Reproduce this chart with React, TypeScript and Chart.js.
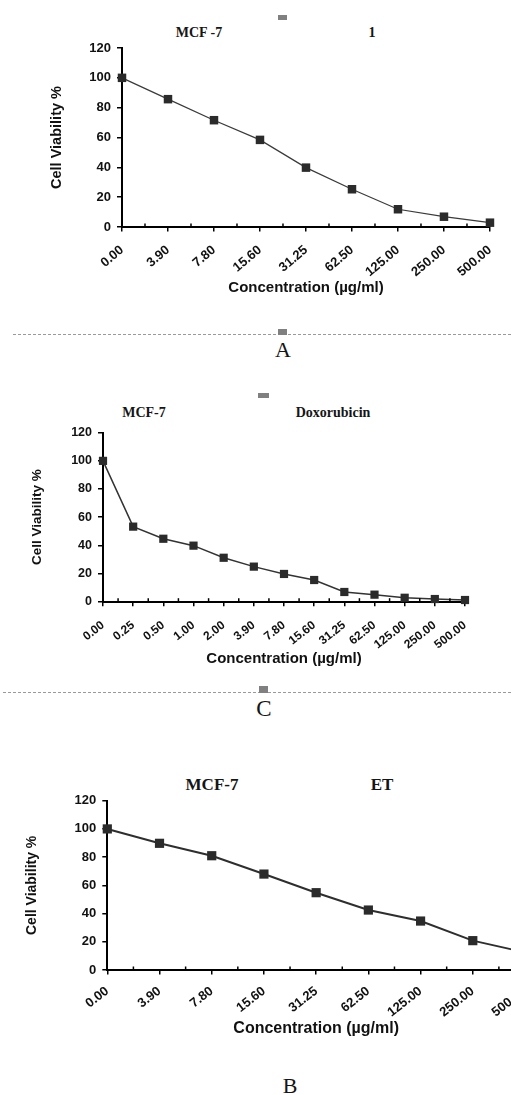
import React, { useEffect, useRef } from 'react';
import { Chart, registerables } from 'chart.js';

Chart.register(...registerables);

// ---------- data ----------
const concLabels1 = ['0.00', '3.90', '7.80', '15.60', '31.25', '62.50', '125.00', '250.00', '500.00'];
const viability1 = [100, 85.7, 71.6, 58.4, 39.8, 25.3, 11.9, 6.9, 2.9];

const concLabelsDox = ['0.00', '0.25', '0.50', '1.00', '2.00', '3.90', '7.80', '15.60', '31.25', '62.50', '125.00', '250.00', '500.00'];
const viabilityDox = [100, 53.3, 44.7, 39.8, 31.2, 24.9, 19.7, 15.4, 6.9, 5.0, 2.8, 1.9, 1.2];

const concLabelsET = ['0.00', '3.90', '7.80', '15.60', '31.25', '62.50', '125.00', '250.00', '500.00'];
const viabilityET = [100, 89.8, 81.0, 68.0, 54.8, 42.5, 34.7, 20.8, 12.5];

const yMin = 0;
const yMax = 120;
const yStep = 20;

const xTitle = 'Concentration (µg/ml)';
const yTitle = 'Cell Viability %';

const SANS = "'Liberation Sans', Arial, Helvetica, sans-serif";
const SERIF = "'Liberation Serif', 'Times New Roman', serif";

interface PanelSpec {
  top: number;
  width: number;
  height: number;
  padTop: number;
  padRight: number;
  yWidth: number;
  yTitleSize: number;
  yTitleCenter: number;
  xHeight: number;
  xTitleSize: number;
  xTickSize: number;
  yTickSize: number;
  xTickPad: number;
  rotation: number;
  lineWidth: number;
  pointRadius: number;
  lineColor: string;
}

const minorTicksPlugin = {
  id: 'minorTicks',
  afterDraw(chart: any) {
    const xs = chart.scales.x;
    const ctx = chart.ctx;
    const y0 = xs.top;
    ctx.save();
    ctx.strokeStyle = '#000';
    ctx.lineWidth = 1.5;
    const n = xs.ticks.length;
    for (let i = 0; i < n - 1; i++) {
      const px = (xs.getPixelForTick(i) + xs.getPixelForTick(i + 1)) / 2;
      ctx.beginPath();
      ctx.moveTo(px, y0);
      ctx.lineTo(px, y0 - 3.5);
      ctx.stroke();
    }
    ctx.restore();
  },
};

function Panel({ labels, values, spec }: { labels: string[]; values: number[]; spec: PanelSpec }) {
  const ref = useRef<HTMLCanvasElement>(null);
  useEffect(() => {
    const yLh = spec.yTitleSize * 1.2;
    const chart = new Chart(ref.current as HTMLCanvasElement, {
      type: 'line',
      data: {
        labels,
        datasets: [
          {
            data: values,
            borderColor: spec.lineColor,
            borderWidth: spec.lineWidth,
            pointStyle: 'rect',
            pointRadius: spec.pointRadius,
            pointBackgroundColor: '#2b2b2b',
            pointBorderWidth: 0,
            tension: 0,
            fill: false,
            clip: false,
          } as any,
        ],
      },
      options: {
        animation: false,
        responsive: true,
        maintainAspectRatio: false,
        events: [],
        layout: { padding: { top: spec.padTop, right: spec.padRight, left: 0, bottom: 0 } },
        plugins: {
          legend: { display: false },
          tooltip: { enabled: false },
          title: { display: false },
        },
        scales: {
          x: {
            type: 'category',
            offset: false,
            grid: {
              display: true,
              drawOnChartArea: false,
              drawTicks: true,
              tickLength: 4.5,
              color: '#000',
              lineWidth: 1.5,
            },
            border: { display: true, color: '#000', width: 2 },
            ticks: {
              autoSkip: false,
              maxRotation: spec.rotation,
              minRotation: spec.rotation,
              padding: spec.xTickPad,
              color: '#111',
              font: { family: SANS, weight: 'bold', size: spec.xTickSize },
            },
            title: {
              display: true,
              text: xTitle,
              color: '#111',
              font: { family: SANS, weight: 'bold', size: spec.xTitleSize },
              padding: { top: 0, bottom: 0 },
            },
            afterFit: (sc: any) => {
              sc.height = spec.xHeight;
            },
          },
          y: {
            min: yMin,
            max: yMax,
            ticks: {
              stepSize: yStep,
              padding: 6,
              color: '#111',
              font: { family: SANS, weight: 'bold', size: spec.yTickSize },
            },
            grid: {
              drawOnChartArea: false,
              drawTicks: true,
              tickLength: 5,
              color: '#000',
              lineWidth: 1.5,
            },
            border: { display: true, color: '#000', width: 2 },
            title: {
              display: true,
              text: yTitle,
              color: '#111',
              font: { family: SANS, weight: 'bold', size: spec.yTitleSize },
              padding: { top: spec.yTitleCenter - yLh / 2, bottom: 0 },
            },
            afterFit: (sc: any) => {
              sc.width = spec.yWidth;
            },
          },
        },
      } as any,
      plugins: [minorTicksPlugin],
    });
    return () => chart.destroy();
  }, []);
  return (
    <div style={{ position: 'absolute', left: 0, top: spec.top, width: spec.width, height: spec.height }}>
      <canvas ref={ref} />
    </div>
  );
}

function Txt({ x, y, text, size, bold = true, family = SERIF }: { x: number; y: number; text: string; size: number; bold?: boolean; family?: string }) {
  return (
    <div
      style={{
        position: 'absolute',
        left: x,
        top: y,
        transform: 'translate(-50%, -50%)',
        fontSize: size,
        fontWeight: bold ? 'bold' : 'normal',
        fontFamily: family,
        lineHeight: 1,
        whiteSpace: 'nowrap',
        color: '#151515',
      }}
    >
      {text}
    </div>
  );
}

function Box({ x, y, w, h }: { x: number; y: number; w: number; h: number }) {
  return <div style={{ position: 'absolute', left: x, top: y, width: w, height: h, background: '#808080' }} />;
}

function Dashed({ x, y, w }: { x: number; y: number; w: number }) {
  return (
    <div
      style={{
        position: 'absolute',
        left: x,
        top: y,
        width: w,
        height: 1,
        background: 'repeating-linear-gradient(to right, #9a9a9a 0 3px, transparent 3px 5px)',
      }}
    />
  );
}

const specA: PanelSpec = {
  top: 0, width: 511, height: 297, padTop: 48, padRight: 20, yWidth: 122,
  yTitleSize: 14.5, yTitleCenter: 57, xHeight: 70, xTitleSize: 15, xTickSize: 13, yTickSize: 13,
  xTickPad: 11, rotation: 40, lineWidth: 1.2, pointRadius: 6, lineColor: '#3a3a3a',
};
const specC: PanelSpec = {
  top: 370, width: 511, height: 298, padTop: 62.7, padRight: 46, yWidth: 103,
  yTitleSize: 13.5, yTitleCenter: 37, xHeight: 66.3, xTitleSize: 15, xTickSize: 12, yTickSize: 12.5,
  xTickPad: 12, rotation: 38, lineWidth: 1.5, pointRadius: 5.8, lineColor: '#333',
};
const specB: PanelSpec = {
  top: 740, width: 560, height: 298, padTop: 60.7, padRight: 35, yWidth: 107.3,
  yTitleSize: 14, yTitleCenter: 32.5, xHeight: 68, xTitleSize: 16, xTickSize: 13, yTickSize: 13,
  xTickPad: 9, rotation: 38, lineWidth: 2, pointRadius: 6.5, lineColor: '#2e2e2e',
};

export default function App() {
  return (
    <div style={{ position: 'absolute', left: 0, top: 0, width: 511, height: 1095, overflow: 'hidden', background: '#fff' }}>
      {/* Panel A */}
      <Box x={278} y={15} w={9} h={5} />
      <Txt x={199} y={33} text="MCF -7" size={14} />
      <Txt x={372} y={33} text="1" size={14} />
      <Panel labels={concLabels1} values={viability1} spec={specA} />
      <Dashed x={13} y={334} w={498} />
      <Box x={278} y={329} w={9} h={6} />
      <Txt x={283} y={350} text="A" size={22} bold={false} />

      {/* Panel C */}
      <Box x={258} y={393} w={11} h={5} />
      <Txt x={144} y={413} text="MCF-7" size={14} />
      <Txt x={333} y={413} text="Doxorubicin" size={14} />
      <Panel labels={concLabelsDox} values={viabilityDox} spec={specC} />
      <Dashed x={3} y={692} w={508} />
      <Box x={259} y={686} w={9} h={7} />
      <Txt x={264} y={708} text="C" size={23} bold={false} />

      {/* Panel B */}
      <Txt x={212} y={784} text="MCF-7" size={17} />
      <Txt x={382} y={784} text="ET" size={17} />
      <Panel labels={concLabelsET} values={viabilityET} spec={specB} />
      <Txt x={290} y={1086} text="B" size={22} bold={false} />
    </div>
  );
}
